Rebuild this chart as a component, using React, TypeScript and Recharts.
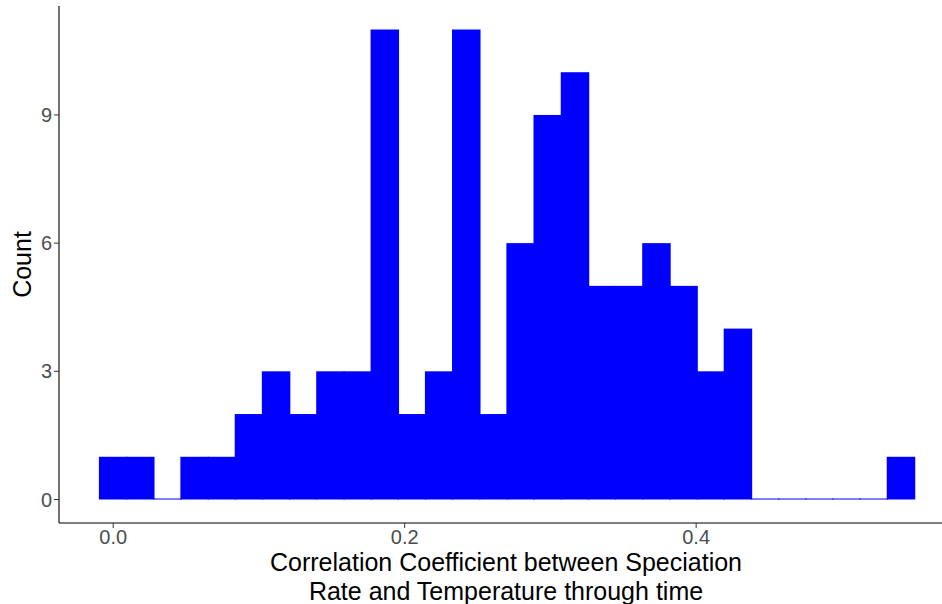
import React from 'react';
import { BarChart, Bar, XAxis, YAxis } from 'recharts';

// histogram bins (centres) and counts
const binCenters = [
  0.0, 0.0186, 0.0373, 0.0559, 0.0746, 0.0932, 0.1118, 0.1305, 0.1491, 0.1678,
  0.1864, 0.205, 0.2237, 0.2423, 0.261, 0.2796, 0.2982, 0.3169, 0.3355, 0.3542,
  0.3728, 0.3914, 0.4101, 0.4287, 0.4474, 0.466, 0.4846, 0.5033, 0.5219, 0.5406,
];
const counts = [
  1, 1, 0, 1, 1, 2, 3, 2, 3, 3,
  11, 2, 3, 11, 2, 6, 9, 10, 5, 5,
  6, 5, 3, 4, 0, 0, 0, 0, 0, 1,
];
const xTicks = [0, 0.2, 0.4];
const yTicks = [0, 3, 6, 9];

const data = binCenters.map((x, i) => ({ x, count: counts[i] }));

const FONT = '"Liberation Sans", Arial, Helvetica, sans-serif';
const tickStyle = { fill: '#4D4D4D', fontSize: 20, fontFamily: FONT };

const XTitle = ({ viewBox }: any) => {
  const cx = 506;
  const y = viewBox.y;
  return (
    <text textAnchor="middle" fill="#000" fontSize={25} fontFamily={FONT}>
      <tspan x={cx} y={y + 48}>Correlation Coefficient between Speciation</tspan>
      <tspan x={cx} y={y + 77}>Rate and Temperature through time</tspan>
    </text>
  );
};

// bars overlap their neighbours a little so the bins join without seams
const HistBar = (props: any) => {
  const { x, y, width, height, fill } = props;
  if (width == null || height == null) return null;
  return <rect x={x - 0.75} y={y} width={width + 1.5} height={Math.max(height, 1)} fill={fill} />;
};

export default function App() {
  return (
    <div style={{ position: 'absolute', left: 0, top: 0, width: 942, height: 604, background: '#fff' }}>
      <BarChart
        width={942}
        height={604}
        data={data}
        margin={{ top: 6, right: 0, bottom: 0, left: 1 }}
        barCategoryGap={0}
        barGap={0}
      >
        <XAxis
          dataKey="x"
          type="number"
          domain={[-0.0372, 0.5687]}
          ticks={xTicks}
          tickFormatter={(v: number) => v.toFixed(1)}
          height={81}
          tick={tickStyle}
          tickSize={5}
          tickMargin={2}
          axisLine={{ stroke: '#000', strokeWidth: 1.1 }}
          tickLine={{ stroke: '#333' }}
          label={<XTitle />}
        />
        <YAxis
          type="number"
          domain={[-0.55, 11.55]}
          ticks={yTicks}
          width={58}
          tick={tickStyle}
          tickSize={5}
          tickMargin={2}
          axisLine={{ stroke: '#000', strokeWidth: 1.1 }}
          tickLine={{ stroke: '#333' }}
          label={{
            value: 'Count',
            angle: -90,
            position: 'insideLeft',
            offset: 21,
            style: { fill: '#000', fontSize: 25, fontFamily: FONT, textAnchor: 'middle' },
          }}
        />
        <Bar
          dataKey="count"
          fill="#0000FF"
          shape={<HistBar />}
          minPointSize={1}
          isAnimationActive={false}
        />
      </BarChart>
    </div>
  );
}
